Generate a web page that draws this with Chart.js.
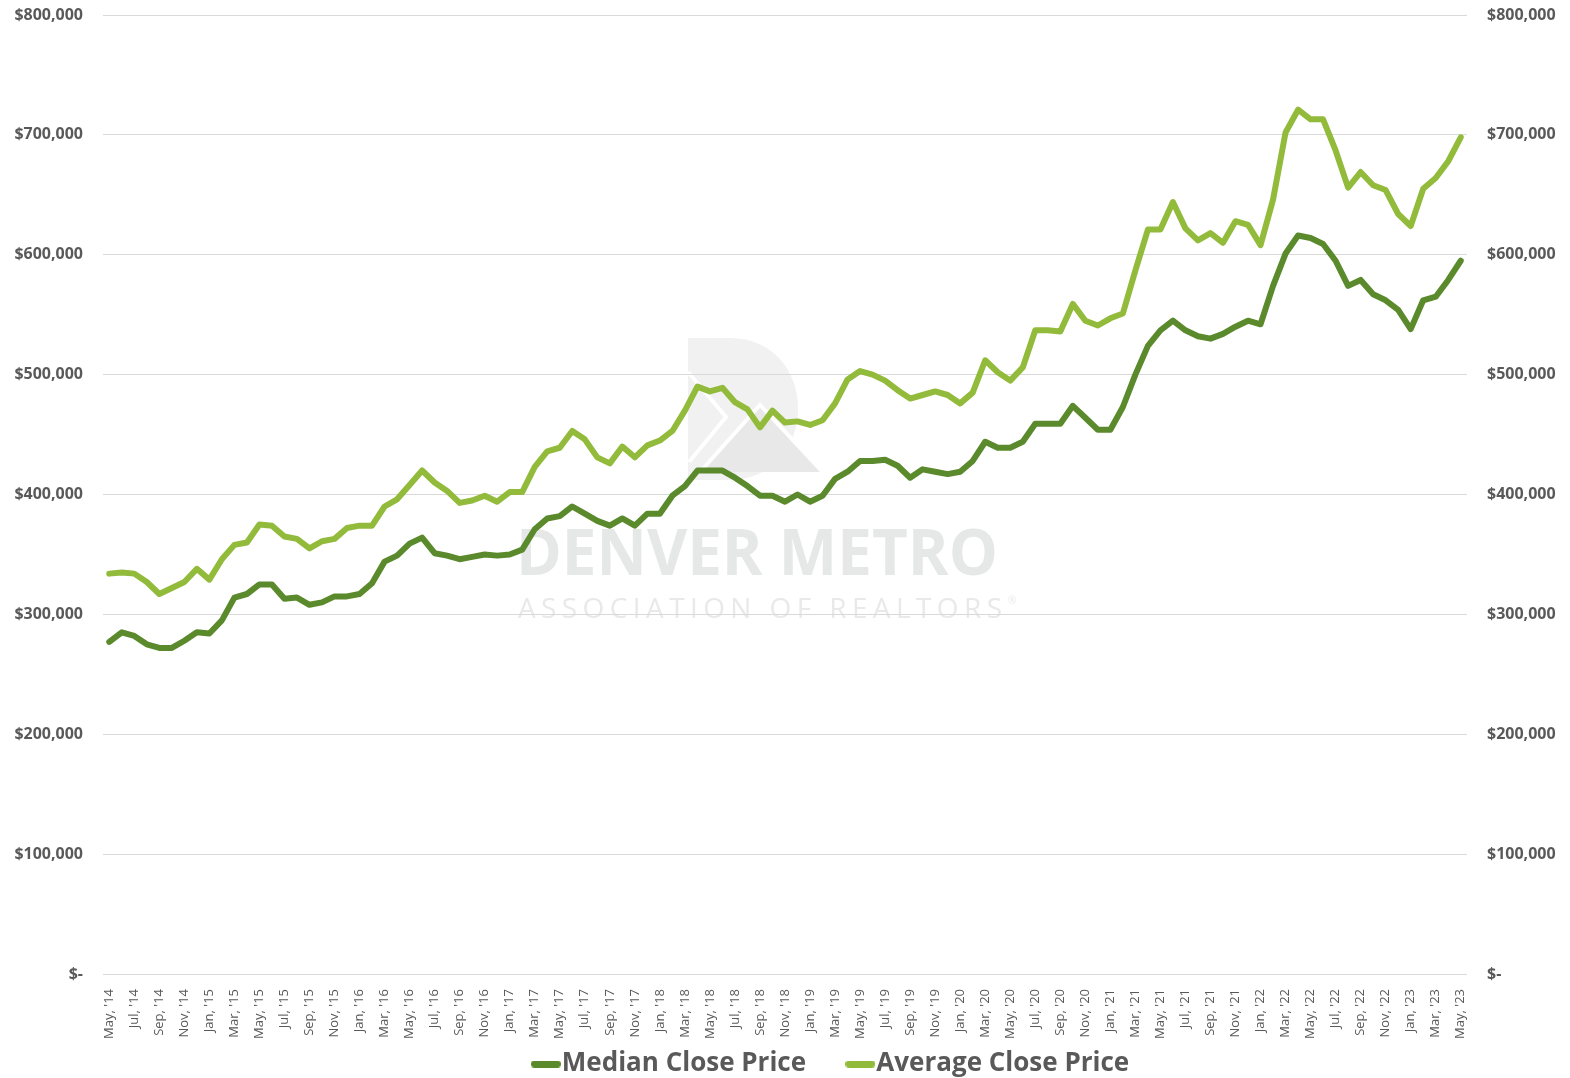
<!DOCTYPE html>
<html>
<head>
<meta charset="utf-8">
<script src="https://cdn.jsdelivr.net/npm/chart.js@4"></script>
<style>
  html, body { margin: 0; padding: 0; background: #fff; }
  #wrap { width: 1570px; height: 1078px; }
</style>
</head>
<body>
<div id="wrap"><canvas id="myChart" width="1570" height="1078"></canvas></div>
<script>
// month labels, May '14 .. May '23
const monthNames = ['Jan', 'Feb', 'Mar', 'Apr', 'May', 'Jun', 'Jul', 'Aug', 'Sep', 'Oct', 'Nov', 'Dec'];
const labels = [];
for (let i = 0; i < 109; i++) {
  const m = (4 + i) % 12;
  const y = 14 + Math.floor((4 + i) / 12);
  labels.push(monthNames[m] + ", '" + y);
}

// values, in dollars
const medianPrice = [
  277000, 285000, 282000, 275000, 272000, 272000, 278000, 285000, 284000, 295000, 314000, 317000,
  325000, 325000, 313000, 314000, 308000, 310000, 315000, 315000, 317000, 326000, 344000, 349000,
  359000, 364000, 351000, 349000, 346000, 348000, 350000, 349000, 350000, 354000, 371000, 380000,
  382000, 390000, 384000, 378000, 374000, 380000, 374000, 384000, 384000, 399000, 407000, 420000,
  420000, 420000, 414000, 407000, 399000, 399000, 394000, 400000, 394000, 399000, 413000, 419000,
  428000, 428000, 429000, 424000, 414000, 421000, 419000, 417000, 419000, 428000, 444000, 439000,
  439000, 444000, 459000, 459000, 459000, 474000, 464000, 454000, 454000, 473000, 500000, 524000,
  537000, 545000, 537000, 532000, 530000, 534000, 540000, 545000, 542000, 574000, 601000, 616000,
  614000, 609000, 595000, 574000, 579000, 567000, 562000, 554000, 538000, 562000, 565000, 579000,
  595000
];
const averagePrice = [
  334000, 335000, 334000, 327000, 317000, 322000, 327000, 338000, 329000, 346000, 358000, 360000,
  375000, 374000, 365000, 363000, 355000, 361000, 363000, 372000, 374000, 374000, 390000, 396000,
  408000, 420000, 410000, 403000, 393000, 395000, 399000, 394000, 402000, 402000, 423000, 436000,
  439000, 453000, 446000, 431000, 426000, 440000, 431000, 441000, 445000, 453000, 470000, 490000,
  486000, 489000, 477000, 471000, 456000, 470000, 460000, 461000, 458000, 462000, 476000, 496000,
  503000, 500000, 495000, 487000, 480000, 483000, 486000, 483000, 476000, 485000, 512000, 502000,
  495000, 506000, 537000, 537000, 536000, 559000, 545000, 541000, 547000, 551000, 587000, 621000,
  621000, 644000, 622000, 612000, 618000, 610000, 628000, 625000, 608000, 646000, 702000, 721000,
  713000, 713000, 687000, 656000, 669000, 658000, 654000, 634000, 624000, 655000, 664000, 678000,
  698000
];

const darkGreen = '#5a8a2b';
const lightGreen = '#93bb3b';
const textGray = '#595959';

const money = (v) => v === 0 ? '$-' : '$' + v.toLocaleString('en-US');

// short rounded bar used as legend marker
function legendBar(color) {
  const c = document.createElement('canvas');
  c.width = 30;
  c.height = 7;
  const g = c.getContext('2d');
  g.fillStyle = color;
  g.beginPath();
  g.roundRect(0, 0, 30, 7, 3.5);
  g.fill();
  return c;
}

// faded logo behind the plot
const watermark = {
  id: 'watermark',
  beforeDraw(chart) {
    const ctx = chart.ctx;
    ctx.save();
    // the "D"
    ctx.fillStyle = '#f1f1f1';
    ctx.beginPath();
    ctx.moveTo(688, 338);
    ctx.lineTo(730, 338);
    ctx.bezierCurveTo(774, 338, 798, 372, 798, 409);
    ctx.bezierCurveTo(798, 448, 770, 480, 730, 480);
    ctx.lineTo(688, 480);
    ctx.closePath();
    ctx.fill();
    ctx.fillStyle = '#e8e8e8';
    ctx.beginPath();
    ctx.moveTo(700, 472);
    ctx.lineTo(760, 405);
    ctx.lineTo(822, 472);
    ctx.closePath();
    ctx.fill();
    ctx.strokeStyle = '#ffffff';
    ctx.lineWidth = 4;
    ctx.beginPath();
    ctx.moveTo(688, 372);
    ctx.lineTo(726, 417);
    ctx.lineTo(689, 462);
    ctx.moveTo(700, 472);
    ctx.lineTo(760, 405);
    ctx.lineTo(830, 480);
    ctx.stroke();
    // text
    ctx.fillStyle = '#e6e7e7';
    ctx.textAlign = 'left';
    ctx.textBaseline = 'alphabetic';
    ctx.font = 'bold 64px "Open Sans"';
    ctx.fillText('DENVER METRO', 516, 575, 482);
    ctx.fillStyle = '#e9e9e9';
    ctx.font = '28px "Open Sans"';
    ctx.letterSpacing = '5.4px';
    ctx.fillText('ASSOCIATION OF REALTORS', 518, 618);
    ctx.letterSpacing = '0px';
    ctx.font = '10px "Open Sans"';
    ctx.fillText('®', 1008, 604);
    ctx.restore();
  }
};

// squeeze the legend box and nudge it right, like the original
const legendFix = {
  id: 'legendFix',
  beforeLayout(chart) {
    const lg = chart.legend;
    if (!lg || lg._fixed) return;
    const fit = lg.fit.bind(lg);
    lg.fit = function () { fit(); this.height = 32; };
    const draw = lg.draw.bind(lg);
    lg.draw = function () {
      chart.ctx.save();
      chart.ctx.translate(51, 1);
      draw();
      chart.ctx.restore();
    };
    lg._fixed = true;
  }
};

const yTicks = {
  color: textGray,
  font: { family: '"Open Sans"', size: 16, weight: 'bold' },
  padding: 20,
  stepSize: 100000,
  callback: (v) => money(v)
};

const yFit = (scale) => {
  scale.width = 103;
  scale.paddingTop = 0;
  scale.paddingBottom = 0;
};

const config = {
  type: 'line',
  data: {
    labels: labels,
    datasets: [{
      label: 'Median Close Price',
      data: medianPrice,
      borderColor: darkGreen,
      backgroundColor: darkGreen,
      borderWidth: 6,
      pointRadius: 0,
      borderJoinStyle: 'round',
      borderCapStyle: 'round',
      yAxisID: 'y'
    }, {
      label: 'Average Close Price',
      data: averagePrice,
      borderColor: lightGreen,
      backgroundColor: lightGreen,
      borderWidth: 6,
      pointRadius: 0,
      borderJoinStyle: 'round',
      borderCapStyle: 'round',
      yAxisID: 'y'
    }]
  },
  options: {
    responsive: false,
    animation: false,
    layout: { padding: { top: 15, left: 0, right: 0, bottom: 0 } },
    scales: {
      x: {
        offset: true,
        grid: { display: false },
        border: { display: false },
        ticks: {
          autoSkip: false,
          minRotation: 90,
          maxRotation: 90,
          padding: 7,
          color: textGray,
          font: { family: '"Open Sans"', size: 13 },
          callback: (val, index) => index % 2 === 0 ? labels[index] : null
        },
        afterFit: (scale) => {
          scale.height = 72;
          scale.paddingLeft = 0;
          scale.paddingRight = 0;
        }
      },
      y: {
        position: 'left',
        min: 0,
        max: 800000,
        grid: { color: '#d9d9d9', lineWidth: 1, drawTicks: false },
        border: { display: false },
        ticks: yTicks,
        afterFit: yFit
      },
      y2: {
        position: 'right',
        min: 0,
        max: 800000,
        grid: { display: false, drawTicks: false },
        border: { display: false },
        ticks: yTicks,
        afterFit: yFit
      }
    },
    plugins: {
      tooltip: { enabled: false },
      legend: {
        position: 'bottom',
        labels: {
          color: textGray,
          font: { family: '"Open Sans"', size: 26, weight: 'bold' },
          usePointStyle: true,
          pointStyleWidth: 6,
          boxHeight: 7,
          padding: 4,
          generateLabels: (chart) => {
            const items = Chart.defaults.plugins.legend.labels.generateLabels(chart);
            items[0].text = items[0].text + '       ';
            items[0].pointStyle = legendBar(darkGreen);
            items[1].pointStyle = legendBar(lightGreen);
            items.forEach((it) => { it.lineWidth = 0; });
            return items;
          }
        }
      }
    }
  },
  plugins: [watermark, legendFix]
};

var ctx = document.getElementById('myChart').getContext('2d');
var myChart = new Chart(ctx, config);
</script>
</body>
</html>
